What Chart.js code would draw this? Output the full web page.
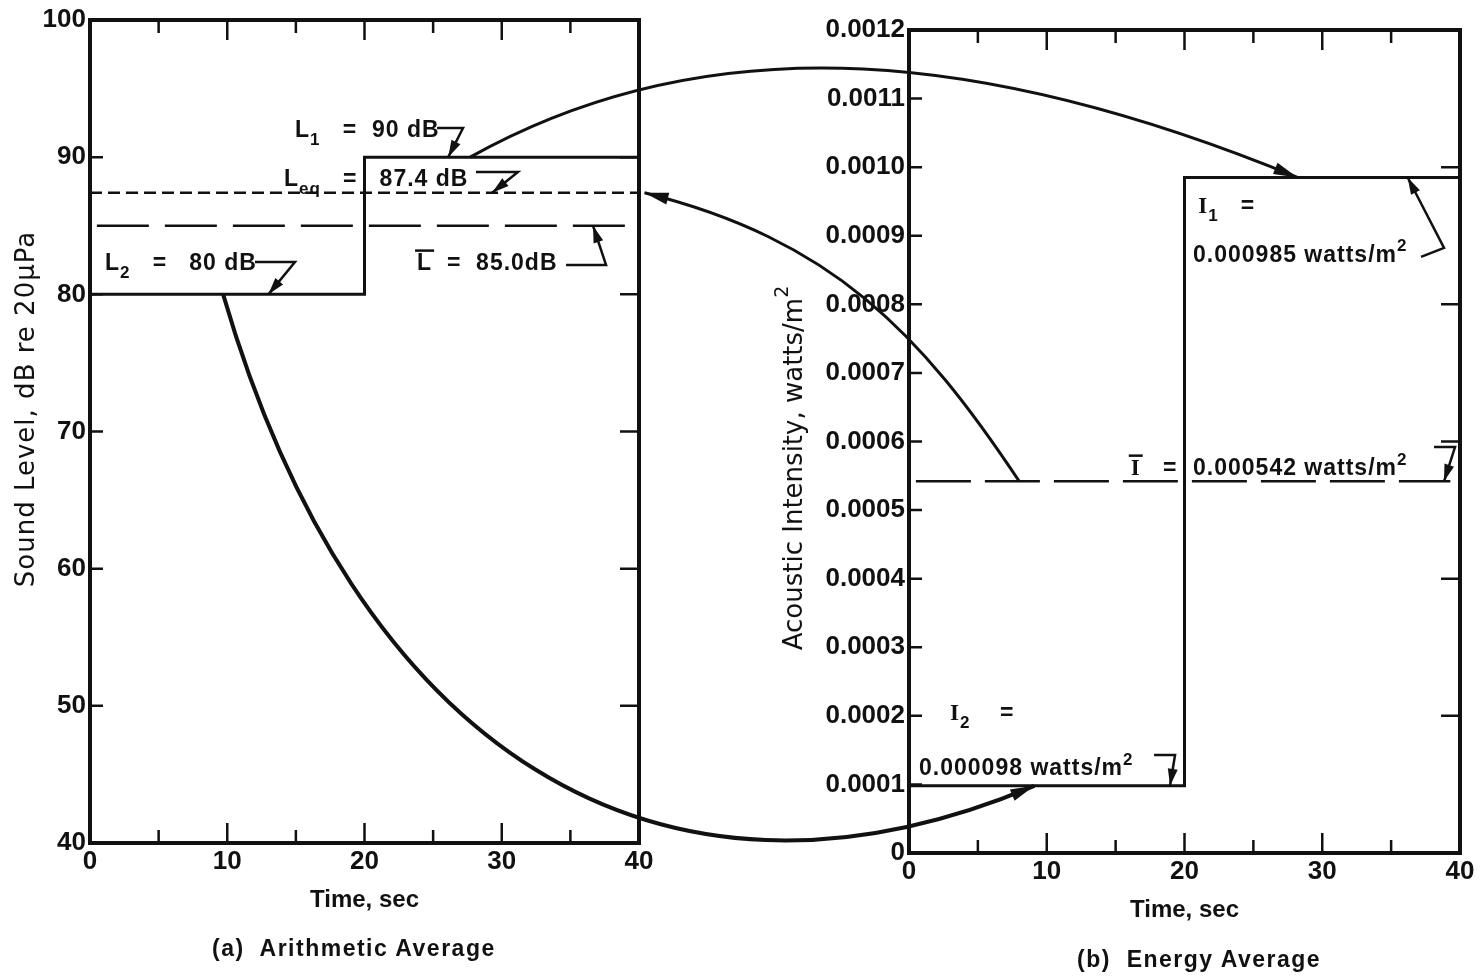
<!DOCTYPE html>
<html>
<head>
<meta charset="utf-8">
<title>Arithmetic and energy average</title>
<script src="https://cdn.jsdelivr.net/npm/chart.js@4.4.1/dist/chart.umd.min.js"></script>
<style>
  body { margin: 0; background: #fff; }
  #sheet { position: relative; width: 1480px; height: 977px; overflow: hidden; }
  #sheet canvas { position: absolute; top: 0; }
  .caption { position: absolute; font: bold 23px "Liberation Sans", Arial, sans-serif; line-height: 1;
             letter-spacing: 1.5px; color: #111; white-space: pre; }
</style>
</head>
<body>
<div id="sheet">
  <canvas id="arith" width="700" height="977" style="left:0"></canvas>
  <canvas id="energy" width="780" height="977" style="left:700px"></canvas>
  <canvas id="links" width="1480" height="977" style="left:0;pointer-events:none"></canvas>
  <div class="caption" style="left:212px;top:937px">(a)  Arithmetic Average</div>
  <div class="caption" style="left:1077px;top:948px">(b)  Energy Average</div>
</div>
<script>
// two 20 s periods
const stepTimes = [0, 20, 40];
const timeTicks = [0, 10, 20, 30, 40];
const timeMarks = [5, 10, 15, 20, 25, 30, 35];

// (a) sound level, dB re 20 uPa
const levels = [80, 90];            // L2 then L1
const levelEq = 87.4;
const levelMean = 85.0;
const levelTicks = [40, 50, 60, 70, 80, 90, 100];
const levelMarks = [50, 60, 70, 80, 90];

// (b) acoustic intensity, watts/m2
const intensities = [0.000098, 0.000985];   // I2 then I1
const intensityMean = 0.000542;
const intensityTicks = [0, 0.0001, 0.0002, 0.0003, 0.0004, 0.0005, 0.0006,
                        0.0007, 0.0008, 0.0009, 0.0010, 0.0011, 0.0012];
const intensityTickLabels = ['0', '0.0001', '0.0002', '0.0003', '0.0004', '0.0005', '0.0006',
                             '0.0007', '0.0008', '0.0009', '0.0010', '0.0011', '0.0012'];
const intensityMarksLeft = [0.0001, 0.0002, 0.0003, 0.0004, 0.0005, 0.0006,
                            0.0007, 0.0008, 0.0009, 0.0010, 0.0011];
const intensityMarksRight = [0.0002, 0.0004, 0.0006, 0.0008, 0.0010];

const ink = '#111';
const sans = '"Liberation Sans", Arial, sans-serif';
const serif = '"Liberation Serif", "Times New Roman", serif';
const titleFace = '"DejaVu Sans", sans-serif';
const noteSize = 23;

function stepPoints(times, values) {
  const pts = [];
  values.forEach((v, i) => {
    pts.push({x: times[i], y: v}, {x: times[i + 1], y: v});
  });
  return pts;
}

function flat(v, from, to) {
  return [{x: from, y: v}, {x: to, y: v}];
}

// text run with subscripts, superscripts and overbars; returns its width
function drawRich(ctx, parts, x, y, size, weight, face, dry) {
  let cx = x;
  for (const p of parts) {
    const small = p.sub || p.sup;
    const fs = small ? Math.round(size * 0.72) : size;
    ctx.font = `${weight} ${fs}px ${p.serif ? serif : face}`;
    const dy = p.sub ? size * 0.36 : p.sup ? -size * 0.45 : 0;
    const w = ctx.measureText(p.t).width;
    if (!dry) {
      ctx.fillText(p.t, cx, y + dy);
      if (p.bar) ctx.fillRect(cx - 2, y - size * 0.9, w + 4, 2.5);
    }
    cx += w;
  }
  return cx - x;
}

function arrowHead(ctx, fx, fy, tx, ty, len, half) {
  const a = Math.atan2(ty - fy, tx - fx);
  const bx = tx - len * Math.cos(a), by = ty - len * Math.sin(a);
  ctx.beginPath();
  ctx.moveTo(tx, ty);
  ctx.lineTo(bx + half * Math.sin(a), by - half * Math.cos(a));
  ctx.lineTo(bx - half * Math.sin(a), by + half * Math.cos(a));
  ctx.closePath();
  ctx.fill();
}

// boxed frame, inward ticks, rotated y title and the callouts
function decor(cfg) {
  return {
    id: 'decor',
    afterDatasetsDraw(chart) {
      const {ctx, chartArea: a, scales: {x, y}} = chart;
      ctx.save();
      ctx.strokeStyle = ink;
      ctx.fillStyle = ink;

      ctx.lineWidth = 4;
      ctx.strokeRect(a.left, a.top, a.right - a.left, a.bottom - a.top);

      ctx.lineWidth = 2.5;
      ctx.beginPath();
      timeMarks.forEach(t => {
        const px = x.getPixelForValue(t);
        const len = t % 10 === 0 ? 20 : 13;
        ctx.moveTo(px, a.bottom); ctx.lineTo(px, a.bottom - len);
        ctx.moveTo(px, a.top); ctx.lineTo(px, a.top + len);
      });
      cfg.leftMarks.forEach(v => {
        const py = y.getPixelForValue(v);
        ctx.moveTo(a.left, py); ctx.lineTo(a.left + 13, py);
      });
      cfg.rightMarks.forEach(v => {
        const py = y.getPixelForValue(v);
        ctx.moveTo(a.right, py); ctx.lineTo(a.right - 19, py);
      });
      ctx.stroke();

      // y axis title
      ctx.save();
      ctx.letterSpacing = cfg.yTitle.spacing;
      ctx.translate(cfg.yTitle.cx, cfg.yTitle.cy);
      ctx.rotate(-Math.PI / 2);
      ctx.textBaseline = 'middle';
      const tw = drawRich(ctx, cfg.yTitle.parts, 0, 0, 26, 'normal', titleFace, true);
      drawRich(ctx, cfg.yTitle.parts, -tw / 2, 0, 26, 'normal', titleFace);
      ctx.restore();

      // callouts
      ctx.letterSpacing = '1px';
      ctx.textBaseline = 'alphabetic';
      cfg.notes.forEach(n => {
        const ax = x.getPixelForValue(n.x), ay = y.getPixelForValue(n.y);
        drawRich(ctx, n.parts, ax, ay, noteSize, 'bold', sans);
        if (n.to) {
          const tx = x.getPixelForValue(n.to.x), ty = y.getPixelForValue(n.to.y);
          const vx = ax + n.via[0], vy = ay + n.via[1];
          ctx.lineWidth = 2.5;
          ctx.beginPath();
          ctx.moveTo(ax + n.from[0], ay + n.from[1]);
          ctx.lineTo(vx, vy);
          ctx.lineTo(tx, ty);
          ctx.stroke();
          arrowHead(ctx, vx, vy, tx, ty, 17, 5);
        }
      });
      ctx.restore();
    }
  };
}

function panel(canvasId, cfg) {
  const tickFont = {family: sans, size: 26, weight: 'bold'};
  return new Chart(document.getElementById(canvasId), {
    type: 'line',
    data: {datasets: cfg.datasets},
    options: {
      responsive: false,
      animation: false,
      events: [],
      layout: {padding: cfg.padding},
      elements: {point: {radius: 0}, line: {borderColor: ink, tension: 0, borderCapStyle: 'butt'}},
      plugins: {legend: {display: false}, tooltip: {enabled: false}},
      scales: {
        x: {
          type: 'linear', min: 0, max: 40,
          afterBuildTicks: s => { s.ticks = timeTicks.map(v => ({value: v})); },
          afterFit: s => { s.height = 75; },
          grid: {display: false, drawTicks: false},
          border: {display: false},
          ticks: {font: tickFont, color: ink, padding: 3, maxRotation: 0, autoSkip: false},
          title: {display: true, text: 'Time, sec', color: ink,
                  font: {family: sans, size: 24, weight: 'bold'}, padding: {top: 0, bottom: 3}}
        },
        y: {
          type: 'linear', min: cfg.yMin, max: cfg.yMax,
          afterBuildTicks: s => { s.ticks = cfg.yTicks.map(v => ({value: v})); },
          afterFit: s => { s.width = cfg.yWidth; },
          grid: {display: false, drawTicks: false},
          border: {display: false},
          ticks: {font: tickFont, color: ink, padding: 4, autoSkip: false, callback: cfg.yLabel}
        }
      }
    },
    plugins: [decor(cfg)]
  });
}

const arith = panel('arith', {
  padding: {left: 0, right: 61, top: 20, bottom: 59},
  yWidth: 90, yMin: 40, yMax: 100, yTicks: levelTicks,
  yLabel: v => String(v),
  leftMarks: levelMarks, rightMarks: levelMarks,
  yTitle: {cx: 27, cy: 409, spacing: '1px', parts: [{t: 'Sound Level, dB re 20μPa'}]},
  datasets: [
    {data: stepPoints(stepTimes, levels), borderWidth: 3},
    {data: flat(levelEq, 0, 40), borderWidth: 2.5, borderDash: [12, 6]},
    {data: flat(levelMean, 0.5, 39.4), borderWidth: 2.5, borderDash: [52, 16]}
  ],
  notes: [
    {x: 14.94, y: 91.47, parts: [{t: 'L'}, {t: '1', sub: true}, {t: '   =  ' + levels[1] + ' dB'}],
     from: [142, -9], via: [168, -9], to: {x: 26.1, y: levels[1]}},
    {x: 14.13, y: 87.9, parts: [{t: 'L'}, {t: 'eq', sub: true}, {t: '   =   ' + levelEq.toFixed(1) + ' dB'}],
     from: [192, -14], via: [234, -14], to: {x: 29.3, y: levelEq}},
    {x: 1.09, y: 81.77, parts: [{t: 'L'}, {t: '2', sub: true}, {t: '   =   ' + levels[0] + ' dB'}],
     from: [150, -8], via: [190, -8], to: {x: 13.0, y: levels[0]}},
    {x: 23.83, y: 81.77, parts: [{t: 'L', bar: true}, {t: '  =  ' + levelMean.toFixed(1) + 'dB'}],
     from: [149, -5], via: [189, -5], to: {x: 36.65, y: levelMean}}
  ]
});

const energy = panel('energy', {
  padding: {left: 0, right: 20, top: 30, bottom: 49},
  yWidth: 209, yMin: 0, yMax: 0.0012, yTicks: intensityTicks,
  yLabel: (v, i) => intensityTickLabels[i],
  leftMarks: intensityMarksLeft, rightMarks: intensityMarksRight,
  yTitle: {cx: 95, cy: 468, spacing: '0px',
           parts: [{t: 'Acoustic Intensity, watts/m'}, {t: '2', sup: true}]},
  datasets: [
    {data: stepPoints(stepTimes, intensities), borderWidth: 3},
    {data: flat(intensityMean, 0.5, 39.3), borderWidth: 2.5, borderDash: [55, 14]}
  ],
  notes: [
    {x: 21.0, y: 0.000933, parts: [{t: 'I', serif: true}, {t: '1', sub: true}, {t: '   ='}]},
    {x: 20.62, y: 0.000862, parts: [{t: intensities[1].toFixed(6) + ' watts/m'}, {t: '2', sup: true}],
     from: [228, -5], via: [251, -14], to: {x: 36.2, y: intensities[1]}},
    {x: 16.1, y: 0.000551, parts: [{t: 'I', serif: true, bar: true}, {t: '   ='}]},
    {x: 20.62, y: 0.000551, parts: [{t: intensityMean.toFixed(6) + ' watts/m'}, {t: '2', sup: true}],
     from: [241, -28], via: [262, -28], to: {x: 38.84, y: intensityMean}},
    {x: 2.98, y: 0.000194, parts: [{t: 'I', serif: true}, {t: '2', sub: true}, {t: '    ='}]},
    {x: 0.73, y: 0.0001137, parts: [{t: intensities[0].toFixed(6) + ' watts/m'}, {t: '2', sup: true}],
     from: [235, -20], via: [256, -20], to: {x: 18.95, y: intensities[0]}}
  ]
});

// curved arrows tying each level to its intensity, drawn across both panels
const panels = {arith: {chart: arith, left: 0}, energy: {chart: energy, left: 700}};
const links = [
  {from: ['arith', 27.7, levels[1]], to: ['energy', 28.2, intensities[1]], c1: [247, -138], c2: [-302, -124], width: 3},
  {from: ['arith', 9.7, levels[0]], to: ['energy', 9.1, intensities[0]], c1: [131, 452], c2: [-380, 160], width: 4},
  {from: ['energy', 8.0, intensityMean], to: ['arith', 40.4, levelEq], c1: [-99, -149], c2: [188, 47], width: 3}
];

function pagePoint([name, t, v]) {
  const p = panels[name];
  return [p.left + p.chart.scales.x.getPixelForValue(t), p.chart.scales.y.getPixelForValue(v)];
}

const lctx = document.getElementById('links').getContext('2d');
lctx.strokeStyle = ink;
lctx.fillStyle = ink;
links.forEach(l => {
  const [x0, y0] = pagePoint(l.from);
  const [x3, y3] = pagePoint(l.to);
  const x1 = x0 + l.c1[0], y1 = y0 + l.c1[1];
  const x2 = x3 + l.c2[0], y2 = y3 + l.c2[1];
  lctx.lineWidth = l.width;
  lctx.beginPath();
  lctx.moveTo(x0, y0);
  lctx.bezierCurveTo(x1, y1, x2, y2, x3, y3);
  lctx.stroke();
  arrowHead(lctx, x2, y2, x3, y3, 24, 6);
});
</script>
</body>
</html>
